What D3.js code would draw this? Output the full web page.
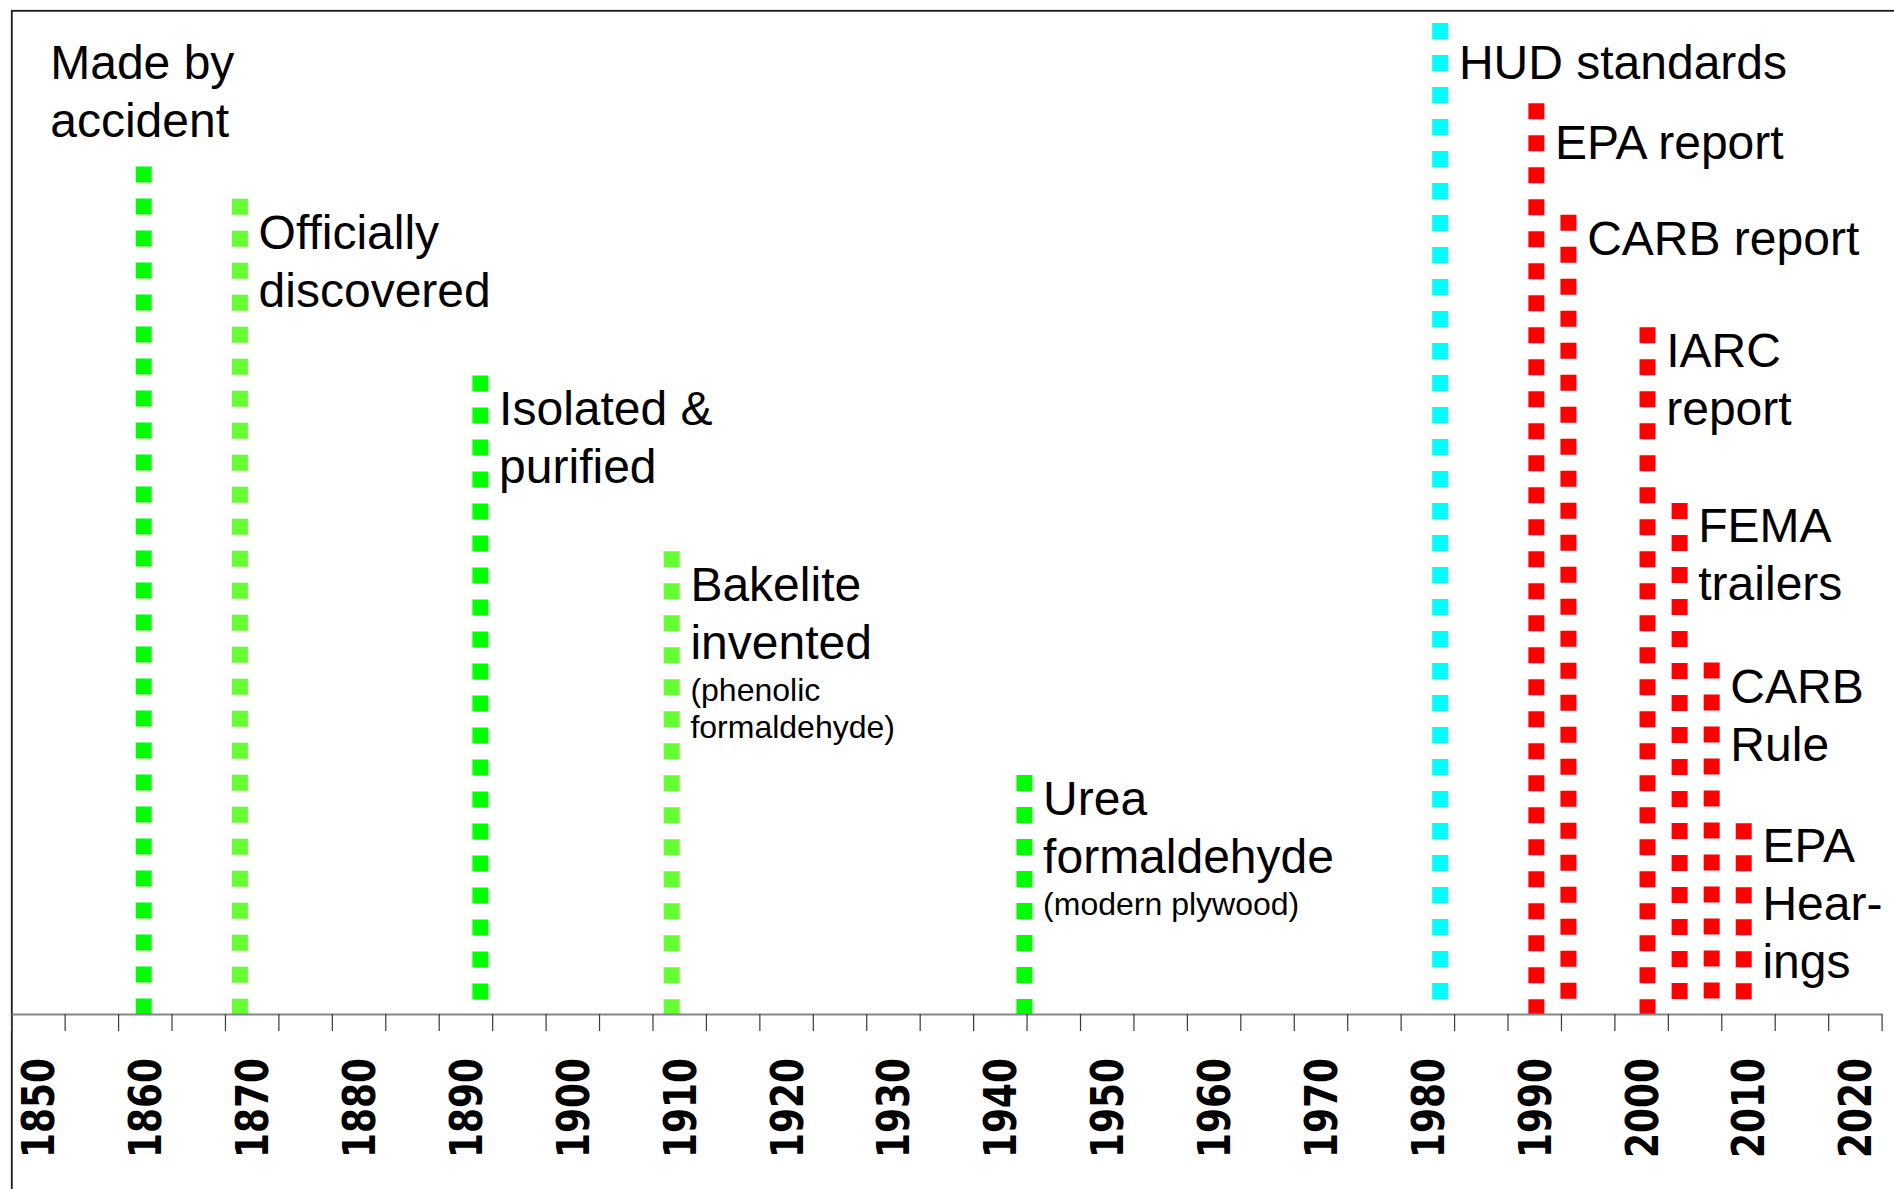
<!DOCTYPE html>
<html>
<head>
<meta charset="utf-8">
<script src="https://cdn.jsdelivr.net/npm/d3@7"></script>
<style>
  html, body { margin: 0; padding: 0; background: #ffffff; }
  svg { display: block; }
</style>
</head>
<body>
<script>
// ---------------- DATA ----------------
// x positions of the event lines, in years
const eventYears   = [1859.9, 1868.9, 1891.4, 1909.3, 1942.3, 1981.2, 1990.2, 1993.2, 2000.6, 2003.6, 2006.6, 2009.6];
// heights of the event lines (percent of plot height)
const eventHeights = [84.4, 81.2, 63.6, 46.1, 23.8, 98.7, 90.7, 79.6, 68.4, 50.9, 35.0, 19.0];
// kind of event (drives colour)
const eventKinds   = ["chem", "chem2", "chem", "chem2", "chem", "standard", "reg", "reg", "reg", "reg", "reg", "reg"];
// main label lines
const eventLabels  = [
  ["Made by", "accident"],
  ["Officially", "discovered"],
  ["Isolated &", "purified"],
  ["Bakelite", "invented"],
  ["Urea", "formaldehyde"],
  ["HUD standards"],
  ["EPA report"],
  ["CARB report"],
  ["IARC", "report"],
  ["FEMA", "trailers"],
  ["CARB", "Rule"],
  ["EPA", "Hear-", "ings"]
];
// small note lines
const eventNotes   = [[], [], [], ["(phenolic", "formaldehyde)"], ["(modern plywood)"], [], [], [], [], [], [], []];
// category axis: 5-year bins, labels every 10 years
const binStarts    = d3.range(1847.5, 2022.6, 5);
const tickLabels   = ["1850","1860","1870","1880","1890","1900","1910","1920","1930","1940","1950","1960","1970","1980","1990","2000","2010","2020"];

// ---------------- LAYOUT / STYLE ----------------
const W = 1894, H = 1189;
const axisY = 1014;
const plotTop = 10;
const kindColor = { chem: "#00FF00", chem2: "#66FF33", standard: "#00FFFF", reg: "#FF0000" };
// label offsets relative to the top of each line: [dx, dy of first baseline]
const labelOffsets = [[-93.5, -87.5], [18.7, 50], [18.7, 50], [18.7, 50], [18.7, 40], [18.7, 56], [18.7, 56],
                      [18.7, 40.5], [18.7, 39.5], [18.7, 39], [18.7, 40], [18.7, 39]];
const bigSize = 48, bigLead = 58, smallSize = 32, smallGap = 42, smallLead = 37;

const svg = d3.select("body").append("svg").attr("width", W).attr("height", H);

const x = d3.scaleLinear().domain([1847.5, 2022.5]).range([11.2, 1881.6]);
const y = d3.scaleLinear().domain([0, 100]).range([axisY, plotTop]);

// frame (cropped chart border)
svg.append("rect")
  .attr("x", 11.8).attr("y", 10.8)
  .attr("width", W + 20).attr("height", H + 20)
  .attr("fill", "none").attr("stroke", "#1a1a1a").attr("stroke-width", 1.8);

const events = eventYears.map((yr, i) => ({
  year: yr, h: eventHeights[i], kind: eventKinds[i],
  label: eventLabels[i], note: eventNotes[i], off: labelOffsets[i]
}));

// event lines (dashed, squares starting at the top)
svg.append("g").selectAll("path").data(events).join("path")
  .attr("d", d => `M${x(d.year)},${y(d.h)}V${y(0) + 1}`)
  .attr("stroke", d => kindColor[d.kind])
  .attr("stroke-width", 16)
  .attr("stroke-dasharray", "16,16")
  .attr("fill", "none");

// axis
const axis = d3.axisBottom(x).tickValues(binStarts).tickSize(17).tickSizeOuter(0).tickFormat("");
const gAxis = svg.append("g").attr("transform", `translate(0,${axisY})`).call(axis);
gAxis.select(".domain").attr("stroke", "#858585").attr("stroke-width", 2.2);
gAxis.selectAll(".tick line").attr("stroke", "#3a3a3a").attr("stroke-width", 1.2);

// tick labels (rotated)
svg.append("g").selectAll("text").data(tickLabels).join("text")
  .attr("transform", d => `translate(${x(+d)},1108) rotate(-90)`)
  .attr("text-anchor", "middle")
  .attr("dy", "0.365em")
  .attr("font-family", "'DejaVu Sans', Verdana, sans-serif")
  .attr("font-weight", "bold")
  .attr("font-size", 45)
  .attr("textLength", 100)
  .attr("lengthAdjust", "spacingAndGlyphs")
  .attr("fill", "#000")
  .text(d => d);

// event labels
const gLab = svg.append("g")
  .attr("font-family", "'Liberation Sans', Arial, Helvetica, sans-serif")
  .attr("fill", "#000");

events.forEach(d => {
  const tx = x(d.year) + d.off[0];
  const ty0 = y(d.h) + d.off[1];
  d.label.forEach((line, j) => {
    gLab.append("text").attr("x", tx).attr("y", ty0 + j * bigLead)
      .attr("font-size", bigSize).text(line);
  });
  const lastBig = ty0 + (d.label.length - 1) * bigLead;
  d.note.forEach((line, j) => {
    gLab.append("text").attr("x", tx).attr("y", lastBig + smallGap + j * smallLead)
      .attr("font-size", smallSize).text(line);
  });
});
</script>
</body>
</html>
